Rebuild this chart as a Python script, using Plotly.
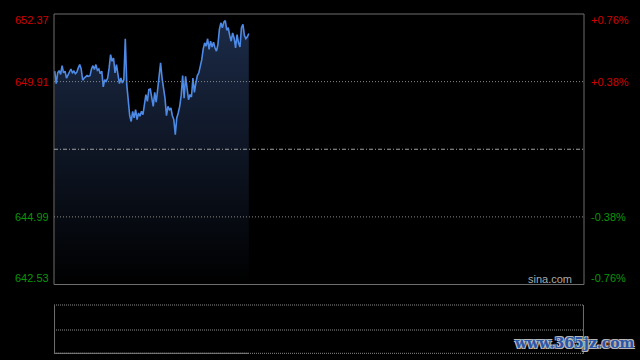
import plotly.graph_objects as go

prev_close = 647.45
price_ticks = [652.37, 649.91, 644.99, 642.53]
pct_labels = ["+0.76%", "+0.38%", "-0.38%", "-0.76%"]
y_min, y_max = 642.53, 652.37
total_slots = 360

prices = [
    650.29, 649.84, 650.23, 650.31, 650.17, 650.49, 650.23, 650.29, 650.04, 650.17,
    650.25, 650.37, 650.23, 650.29, 650.20, 650.25, 650.41, 650.53, 650.37, 649.96,
    650.04, 650.10, 650.13, 650.10, 650.13, 650.37, 650.49, 650.35, 650.53, 650.32,
    650.37, 650.20, 650.29, 649.72, 649.98, 649.92, 650.04, 650.41, 650.89, 650.65,
    650.77, 650.23, 650.53, 650.17, 649.84, 650.04, 649.86, 649.98, 651.47, 649.80,
    649.25, 648.67, 648.46, 648.83, 648.59, 648.89, 648.53, 648.77, 648.65, 648.83,
    648.71, 649.01, 649.44, 649.19, 649.62, 649.64, 649.25, 649.01, 649.52, 649.16,
    649.62, 650.10, 650.59, 650.04, 649.74, 649.31, 648.67, 649.01, 648.89, 648.95,
    648.67, 648.53, 647.98, 648.59, 648.77, 649.01, 649.40, 650.13, 649.31, 650.10,
    649.68, 649.25, 649.44, 649.35, 650.04, 649.52, 649.86, 650.13, 650.23, 650.47,
    650.71, 651.10, 651.32, 651.20, 651.47, 651.08, 651.38, 651.17, 651.34, 651.14,
    651.02, 651.26, 651.81, 652.05, 651.87, 652.07, 652.13, 651.78, 651.87, 651.59,
    651.38, 651.68, 651.50, 651.14, 651.62, 651.32, 651.17, 651.87, 651.99, 651.59,
    651.47, 651.54, 651.66,
]
x_idx = list(range(len(prices)))

RED = "#d00000"
GREEN = "#0a960a"
GRID = "#8a8a8a"
FRAME = "#6e6e6e"
FONT = "Liberation Sans, Arial, sans-serif"

fig = go.Figure()
fig.add_trace(go.Scatter(
    x=x_idx, y=prices, mode="lines",
    line=dict(color="#4d8ae6", width=1.6),
    fill="tozeroy",
    fillgradient=dict(type="vertical", start=y_min, stop=652.2,
                      colorscale=[[0, "#000000"], [1, "#1c2b48"]]),
    hoverinfo="skip", showlegend=False,
))

# plot area in pixels: x 54..584, y 14..354 (340 px tall)
def py(pix):
    return (354 - pix) / 340

vol_top, vol_mid, vol_bot = py(305), py(330), py(354)

shapes = []
shapes.append(dict(type="rect", xref="x domain", yref="y domain", x0=0, x1=1, y0=0, y1=1,
                   line=dict(color=FRAME, width=1)))
for v in [price_ticks[1], price_ticks[2]]:
    shapes.append(dict(type="line", xref="x domain", yref="y", x0=0, x1=1, y0=v, y1=v,
                       line=dict(color=GRID, width=1, dash="1px,2px")))
shapes.append(dict(type="line", xref="x domain", yref="y", x0=0, x1=1, y0=prev_close, y1=prev_close,
                   line=dict(color="#a0a0a0", width=1, dash="4px,2px,1px,2px")))
for v in [vol_top, vol_mid, vol_bot + 0.002]:
    shapes.append(dict(type="line", xref="paper", yref="paper", x0=0, x1=1, y0=v, y1=v,
                       line=dict(color=GRID, width=1, dash="1px,1px")))
for xv in [0.001, 0.999]:
    shapes.append(dict(type="line", xref="paper", yref="paper", x0=xv, x1=xv, y0=vol_bot, y1=vol_top,
                       line=dict(color=FRAME, width=1)))
shapes.append(dict(type="line", xref="x", yref="paper", x0=0, x1=len(prices) - 1,
                   y0=vol_bot + 0.002, y1=vol_bot + 0.002,
                   line=dict(color="#808080", width=1)))

annotations = []
label_px = [20, 82, 217, 278]
for val, pct, lp in zip(price_ticks, pct_labels, label_px):
    col = RED if val > prev_close else GREEN
    annotations.append(dict(xref="paper", yref="paper", x=-3 / 530, y=py(lp), text=f"{val:.2f}",
                            showarrow=False, xanchor="right", yanchor="middle",
                            font=dict(family=FONT, size=11, color=col)))
    annotations.append(dict(xref="paper", yref="paper", x=1 + 5 / 530, y=py(lp), text=pct,
                            showarrow=False, xanchor="left", yanchor="middle",
                            font=dict(family=FONT, size=11, color=col)))

annotations.append(dict(xref="paper", yref="paper", x=(574 - 54) / 530, y=py(279),
                        text="sina.com", showarrow=False, xanchor="right", yanchor="middle",
                        font=dict(family=FONT, size=11, color="#aaaaaa")))
annotations.append(dict(xref="paper", yref="paper", x=(637 - 54) / 530, y=py(343),
                        text="<b>www.365jz.com</b>", showarrow=False, xanchor="right", yanchor="middle",
                        font=dict(family="DejaVu Serif", size=14, color="#2a55a8",
                                  shadow="1px 1px 0 #b8b8b8, -1px -1px 0 #b8b8b8, 1px -1px 0 #b8b8b8, -1px 1px 0 #b8b8b8")))

fig.update_layout(
    width=640, height=360,
    margin=dict(l=54, r=56, t=14, b=6),
    paper_bgcolor="#000000", plot_bgcolor="#000000",
    xaxis=dict(range=[-0.5, total_slots], visible=False, fixedrange=True),
    yaxis=dict(range=[y_min, y_max], domain=[0.2044, 1], visible=False, fixedrange=True),
    shapes=shapes, annotations=annotations, showlegend=False,
)

fig.write_html("out.html")
